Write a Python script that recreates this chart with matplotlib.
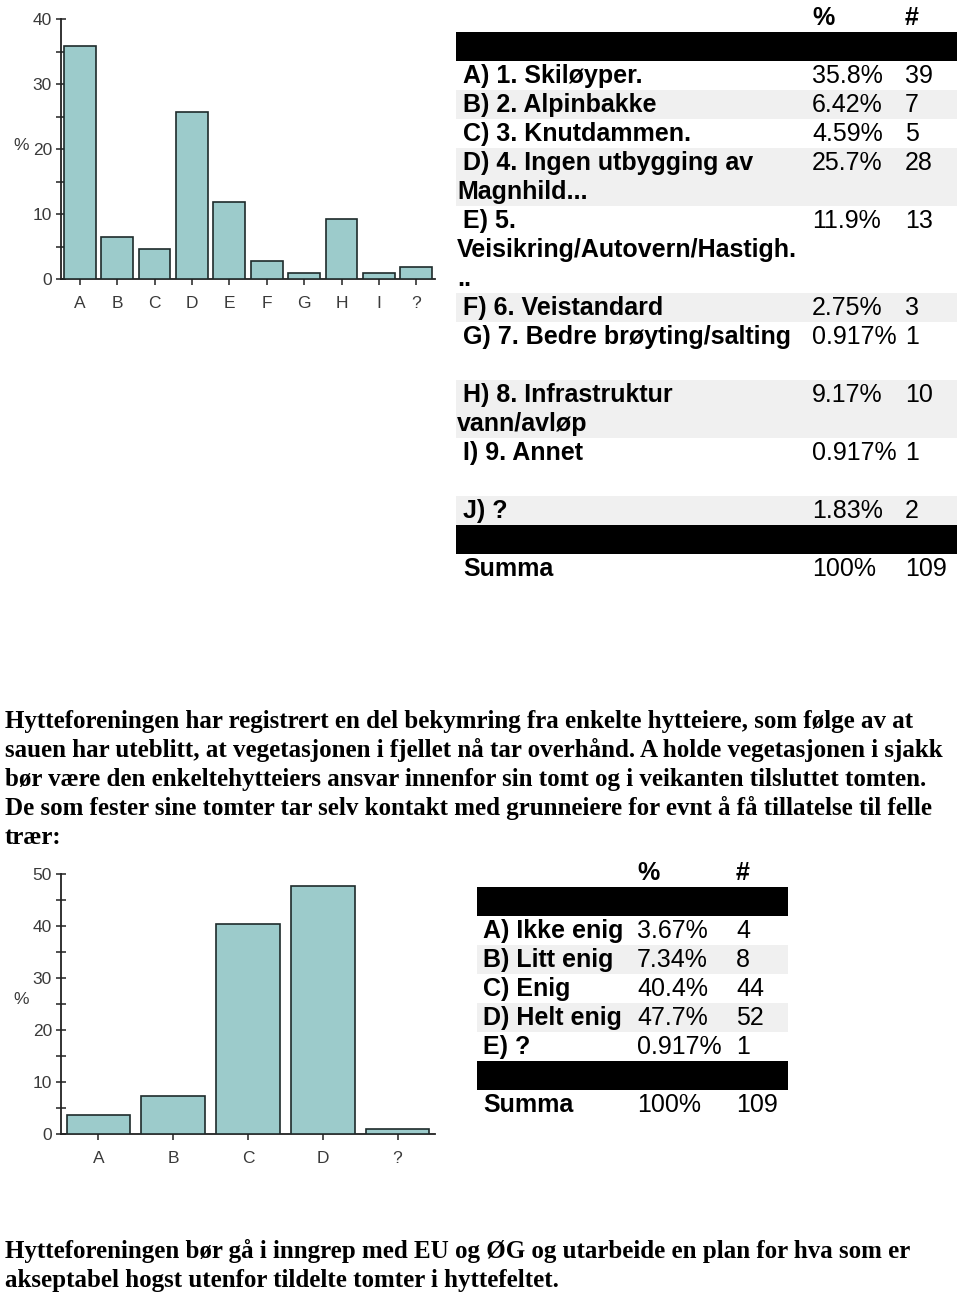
import matplotlib
matplotlib.use("Agg")
import matplotlib.pyplot as plt
from matplotlib.patches import Rectangle
from matplotlib.ticker import MultipleLocator

# ---------------- data ----------------
cats1 = ["A", "B", "C", "D", "E", "F", "G", "H", "I", "?"]
vals1 = [35.8, 6.42, 4.59, 25.7, 11.9, 2.75, 0.917, 9.17, 0.917, 1.83]
labels1 = [["A) 1. Skiløyper."],
           ["B) 2. Alpinbakke"],
           ["C) 3. Knutdammen."],
           ["D) 4. Ingen utbygging av", "Magnhild..."],
           ["E) 5.", "Veisikring/Autovern/Hastigh.", ".."],
           ["F) 6. Veistandard"],
           ["G) 7. Bedre brøyting/salting", ""],
           ["H) 8. Infrastruktur", "vann/avløp"],
           ["I) 9. Annet", ""],
           ["J) ?"]]
pct1 = ["35.8%", "6.42%", "4.59%", "25.7%", "11.9%", "2.75%", "0.917%", "9.17%", "0.917%", "1.83%"]
n1 = ["39", "7", "5", "28", "13", "3", "1", "10", "1", "2"]

cats2 = ["A", "B", "C", "D", "?"]
vals2 = [3.67, 7.34, 40.4, 47.7, 0.917]
labels2 = ["A) Ikke enig", "B) Litt enig", "C) Enig", "D) Helt enig", "E) ?"]
pct2 = ["3.67%", "7.34%", "40.4%", "47.7%", "0.917%"]
n2 = ["4", "8", "44", "52", "1"]

summa_label = "Summa"
summa_pct = "100%"
summa_n = "109"

para1 = ["Hytteforeningen har registrert en del bekymring fra enkelte hytteiere, som følge av at",
         "sauen har uteblitt, at vegetasjonen i fjellet nå tar overhånd. A holde vegetasjonen i sjakk",
         "bør være den enkeltehytteiers ansvar innenfor sin tomt og i veikanten tilsluttet tomten.",
         "De som fester sine tomter tar selv kontakt med grunneiere for evnt å få tillatelse til felle",
         "trær:"]
para2 = ["Hytteforeningen bør gå i inngrep med EU og ØG og utarbeide en plan for hva som er",
         "akseptabel hogst utenfor tildelte tomter i hyttefeltet."]

# ---------------- figure ----------------
W, H = 960, 1295
fig = plt.figure(figsize=(W / 100, H / 100), dpi=100)
fig.patch.set_facecolor("white")

ov = fig.add_axes([0, 0, 1, 1])
ov.set_xlim(0, W)
ov.set_ylim(H, 0)
ov.axis("off")

BAR = "#9ccbcb"
EDGE = "#1e2b2b"
TXT = "#3a3a3a"
SANS = "Liberation Sans"
SERIF = "Liberation Serif"
TFS = 12.5


def bar_chart(top, bottom, cats, vals, ymax, major, label_y):
    ax = fig.add_axes([61 / W, 1 - bottom / H, 374 / W, (bottom - top) / H])
    x = range(len(cats))
    ax.bar(x, vals, width=0.85, color=BAR, edgecolor=EDGE, linewidth=1.2, zorder=3)
    ax.set_xlim(-0.5, len(cats) - 0.5)
    ax.set_ylim(0, ymax)
    ax.set_xticks(list(x))
    ax.set_xticklabels(cats)
    ax.yaxis.set_major_locator(MultipleLocator(major))
    ax.yaxis.set_minor_locator(MultipleLocator(major / 2))
    for s in ["top", "right"]:
        ax.spines[s].set_visible(False)
    for s in ["left", "bottom"]:
        ax.spines[s].set_color("#222222")
        ax.spines[s].set_linewidth(1.3)
    ax.tick_params(axis="y", which="both", direction="inout", length=7, width=1.1,
                   color="#222222", labelsize=TFS, labelcolor=TXT, pad=3)
    ax.tick_params(axis="x", which="both", direction="out", length=4, width=1.1,
                   color="#222222", labelsize=TFS, labelcolor=TXT, pad=8)
    for lab in ax.get_xticklabels() + ax.get_yticklabels():
        lab.set_family(SANS)
    ax.set_facecolor("none")
    ov.text(21, label_y, "%", fontsize=TFS, color=TXT, family=SANS,
            ha="center", va="center")
    return ax


bar_chart(19, 279, cats1, vals1, 40, 10, 145)
bar_chart(874, 1134, cats2, vals2, 50, 10, 1000)

FS = 18
PITCH = 29

# ---------------- table 1 ----------------
T1L, T1R = 456, 957
x_lab1, x_cont1, x_pct1, x_n1 = 463, 457, 812, 905
ov.text(x_pct1, 25, "%", fontsize=FS, weight="bold", family=SANS, va="baseline")
ov.text(x_n1, 25, "#", fontsize=FS, weight="bold", family=SANS, va="baseline")
ov.add_patch(Rectangle((T1L, 32), T1R - T1L, 29, color="black", lw=0))
base0 = 83
k = 0
for i, lines in enumerate(labels1):
    nl = len(lines)
    if i % 2 == 1:
        ov.add_patch(Rectangle((T1L, base0 + PITCH * k - 22), T1R - T1L, PITCH * nl,
                               color="#f0f0f0", lw=0, zorder=0))
    for j, ln in enumerate(lines):
        ov.text(x_lab1 if j == 0 else x_cont1, base0 + PITCH * (k + j), ln,
                fontsize=FS, weight="bold", family=SANS, va="baseline")
    ov.text(x_pct1, base0 + PITCH * k, pct1[i], fontsize=FS, family=SANS, va="baseline")
    ov.text(x_n1, base0 + PITCH * k, n1[i], fontsize=FS, family=SANS, va="baseline")
    k += nl
ov.add_patch(Rectangle((T1L, base0 + PITCH * k - 22), T1R - T1L, 29, color="black", lw=0))
k += 1
ov.text(x_lab1, base0 + PITCH * k, summa_label, fontsize=FS, weight="bold", family=SANS, va="baseline")
ov.text(x_pct1, base0 + PITCH * k, summa_pct, fontsize=FS, family=SANS, va="baseline")
ov.text(x_n1, base0 + PITCH * k, summa_n, fontsize=FS, family=SANS, va="baseline")

# ---------------- table 2 ----------------
T2L, T2R = 477, 788
x_lab2, x_pct2, x_n2 = 483, 637, 736
ov.text(x_pct2, 880, "%", fontsize=FS, weight="bold", family=SANS, va="baseline")
ov.text(x_n2, 880, "#", fontsize=FS, weight="bold", family=SANS, va="baseline")
ov.add_patch(Rectangle((T2L, 887), T2R - T2L, 29, color="black", lw=0))
base2 = 938
for i, lab in enumerate(labels2):
    y = base2 + PITCH * i
    if i % 2 == 1:
        ov.add_patch(Rectangle((T2L, y - 22), T2R - T2L, PITCH, color="#f0f0f0", lw=0, zorder=0))
    ov.text(x_lab2, y, lab, fontsize=FS, weight="bold", family=SANS, va="baseline")
    ov.text(x_pct2, y, pct2[i], fontsize=FS, family=SANS, va="baseline")
    ov.text(x_n2, y, n2[i], fontsize=FS, family=SANS, va="baseline")
yb = base2 + PITCH * len(labels2)
ov.add_patch(Rectangle((T2L, yb - 22), T2R - T2L, 29, color="black", lw=0))
ys = yb + PITCH
ov.text(x_lab2, ys, summa_label, fontsize=FS, weight="bold", family=SANS, va="baseline")
ov.text(x_pct2, ys, summa_pct, fontsize=FS, family=SANS, va="baseline")
ov.text(x_n2, ys, summa_n, fontsize=FS, family=SANS, va="baseline")

# ---------------- paragraphs ----------------
PFS = 18
for i, ln in enumerate(para1):
    ov.text(5, 728 + PITCH * i, ln, fontsize=PFS, weight="bold", family=SERIF, va="baseline")
for i, ln in enumerate(para2):
    ov.text(5, 1258 + 28.5 * i, ln, fontsize=PFS, weight="bold", family=SERIF, va="baseline")

fig.savefig("out.png", dpi=100)
